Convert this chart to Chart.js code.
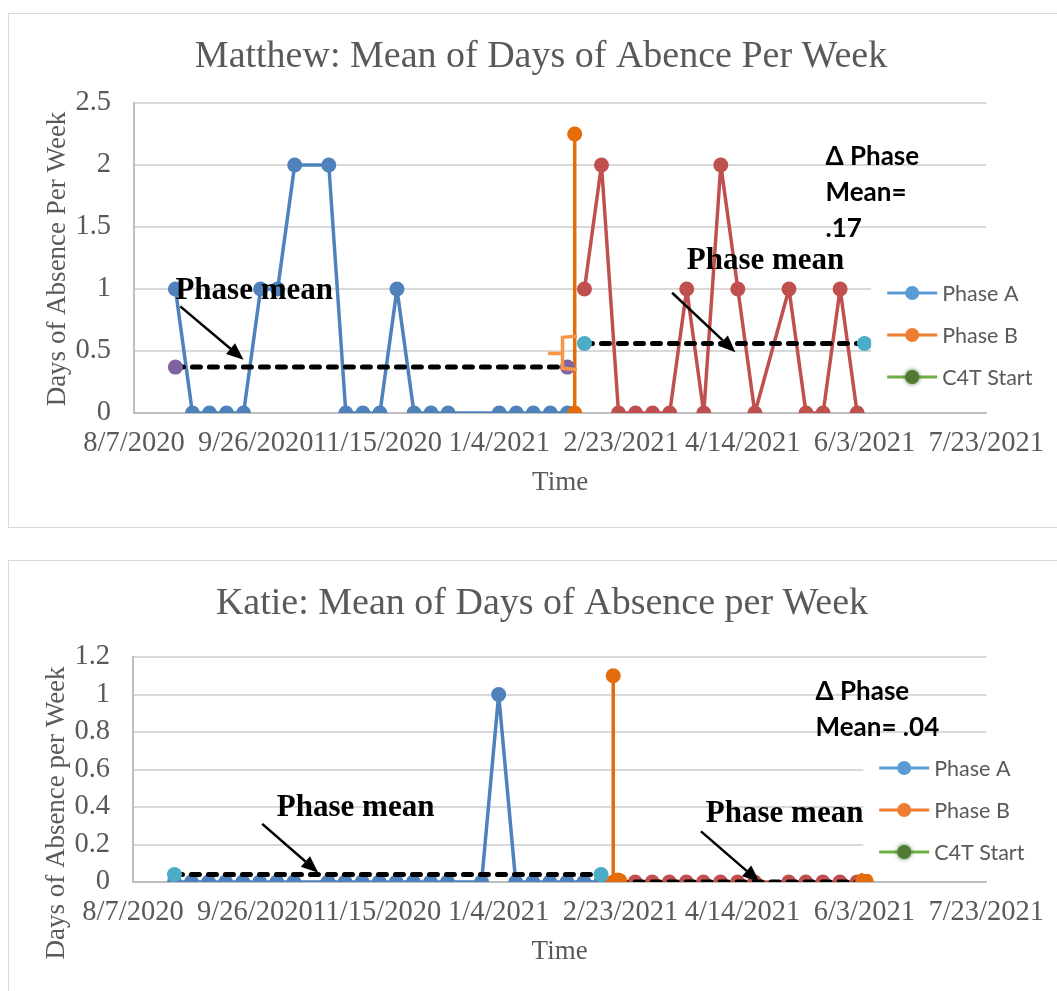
<!DOCTYPE html>
<html>
<head>
<meta charset="utf-8">
<title>Days of Absence Per Week</title>
<script src="https://cdn.jsdelivr.net/npm/chart.js@4.4.0/dist/chart.umd.min.js"></script>
<style>
    html, body { margin: 0; padding: 0; background: #fff; overflow: hidden; }
    body { position: relative; width: 1057px; height: 991px; }
    .box { position: absolute; left: 8px; width: 1100px; border: 1.5px solid #d9d9d9; }
    #box1 { top: 13px; height: 513px; }
    #box2 { top: 560px; height: 460px; }
    canvas { position: absolute; left: 0; }
    #chartMatthew { top: 0; }
    #chartKatie { top: 545px; }
</style>
</head>
<body>
<div class="box" id="box1"></div>
<div class="box" id="box2"></div>
<canvas id="chartMatthew" width="1057" height="540"></canvas>
<canvas id="chartKatie" width="1057" height="446"></canvas>
<script>
// ---- shared axis data ----
const xTickLabels = ['8/7/2020', '9/26/2020', '11/15/2020', '1/4/2021', '2/23/2021', '4/14/2021', '6/3/2021', '7/23/2021'];
const legendLabels = ['Phase A', 'Phase B', 'C4T Start'];

// ---- Matthew ----
const matthewYTicks = [0, 0.5, 1, 1.5, 2, 2.5];
const matthewADates = ['8/24/2020', '8/31/2020', '9/7/2020', '9/14/2020', '9/21/2020', '9/28/2020', '10/5/2020',
    '10/12/2020', '10/26/2020', '11/2/2020', '11/9/2020', '11/16/2020', '11/23/2020', '11/30/2020', '12/7/2020',
    '12/14/2020', '1/4/2021', '1/11/2021', '1/18/2021', '1/25/2021', '2/1/2021'];
const matthewAValues = [1, 0, 0, 0, 0, 1, 1, 2, 2, 0, 0, 0, 1, 0, 0, 0, 0, 0, 0, 0, 0];
const matthewBDates = ['2/4/2021', '2/4/2021'];
const matthewBValues = [0, 2.25];
const matthewBDataDates = ['2/8/2021', '2/15/2021', '2/22/2021', '3/1/2021', '3/8/2021', '3/15/2021', '3/22/2021',
    '3/29/2021', '4/5/2021', '4/12/2021', '4/19/2021', '5/3/2021', '5/10/2021', '5/17/2021', '5/24/2021', '5/31/2021'];
const matthewBDataValues = [1, 2, 0, 0, 0, 0, 1, 0, 2, 1, 0, 1, 0, 0, 1, 0];
const matthewMeanADates = ['8/24/2020', '2/1/2021'];
const matthewMeanAValues = [0.37, 0.37];
const matthewMeanBDates = ['2/8/2021', '6/3/2021'];
const matthewMeanBValues = [0.56, 0.56];
const matthewBracketDates = ['2/5/2021', '1/30/2021', '1/30/2021', '1/24/2021', '1/30/2021', '1/30/2021', '2/5/2021'];
const matthewBracketValues = [0.62, 0.61, 0.48, 0.48, 0.48, 0.36, 0.35];
const matthewLabelSpots = [['8/24/2020', 0.92], ['3/22/2021', 1.16]];
const matthewArrows = [[['8/26/2020', 0.86], ['9/21/2020', 0.43]], [['3/16/2021', 0.97], ['4/11/2021', 0.49]]];
const matthewDelta = ['Δ Phase', 'Mean=', '.17'];
const matthewDeltaSpot = ['5/18/2021', 2.0];

// ---- Katie ----
const katieYTicks = [0, 0.2, 0.4, 0.6, 0.8, 1, 1.2];
const katieADates = ['8/24/2020', '8/31/2020', '9/7/2020', '9/14/2020', '9/21/2020', '9/28/2020', '10/5/2020',
    '10/12/2020', '10/26/2020', '11/2/2020', '11/9/2020', '11/16/2020', '11/23/2020', '11/30/2020', '12/7/2020',
    '12/14/2020', '12/28/2020', '1/4/2021', '1/11/2021', '1/18/2021', '1/25/2021', '2/1/2021', '2/8/2021', '2/15/2021'];
const katieAValues = [0, 0, 0, 0, 0, 0, 0, 0, 0, 0, 0, 0, 0, 0, 0, 0, 0, 1, 0, 0, 0, 0, 0, 0];
const katieBDates = ['2/20/2021', '2/20/2021'];
const katieBValues = [0, 1.1];
const katieBDataDates = ['2/22/2021', '3/1/2021', '3/8/2021', '3/15/2021', '3/22/2021', '3/29/2021', '4/5/2021',
    '4/12/2021', '4/19/2021', '5/3/2021', '5/10/2021', '5/17/2021', '5/24/2021', '5/31/2021'];
const katieBDataValues = [0, 0, 0, 0, 0, 0, 0, 0, 0, 0, 0, 0, 0, 0];
const katieMeanADates = ['8/24/2020', '2/15/2021'];
const katieMeanAValues = [0.04, 0.04];
const katieMeanBDates = ['2/22/2021', '6/3/2021'];
const katieMeanBValues = [0, 0];
const katieLabelSpots = [['10/5/2020', 0.354], ['3/30/2021', 0.322]];
const katieArrows = [[['9/29/2020', 0.31], ['10/22/2020', 0.05]], [['3/28/2021', 0.27], ['4/21/2021', 0.0]]];
const katieDelta = ['Δ Phase', 'Mean= .04'];
const katieDeltaSpot = ['5/14/2021', 0.97];

const BLUE = '#4F81BD', ORANGE = '#E46C0A', RED = '#C0504D', PURPLE = '#8064A2', CYAN = '#4BACC6';
const GREY = '#595959';
const SERIF = '"Liberation Serif", "Times New Roman", serif';
const SANS = 'Lato, "Liberation Sans", sans-serif';

// m/d/yyyy -> excel style day number
function serial(s) {
    const [m, d, y] = s.split('/').map(Number);
    return Date.UTC(y, m - 1, d) / 86400000 + 25569;
}
function pts(dates, values) {
    return dates.map((d, i) => ({ x: serial(d), y: values[i] }));
}

function series(label, data, color, order, extra) {
    return Object.assign({
        label, data, order,
        borderColor: color, backgroundColor: color,
        pointBackgroundColor: color, pointBorderColor: color,
        borderWidth: 3.5, borderJoinStyle: 'round',
        pointRadius: 7.5, pointBorderWidth: 0, tension: 0
    }, extra || {});
}
function meanSeries(label, data, markerColor, radius) {
    return series(label, data, '#000', 1, {
        borderWidth: 5, borderDash: [8, 9], borderCapStyle: 'round',
        pointBackgroundColor: markerColor, pointBorderColor: markerColor, pointRadius: radius || 7.5
    });
}

// arrows, "Phase mean" notes, delta text, titles and legend
function makeNotes(cfg) {
    return {
        id: 'notes',
        afterDatasetsDraw(chart) {
            const { ctx, scales: { x, y } } = chart;
            const px = d => x.getPixelForValue(serial(d));
            ctx.save();
            ctx.strokeStyle = '#000';
            ctx.fillStyle = '#000';
            ctx.lineWidth = 2.5;
            cfg.arrows.forEach(([[d0, v0], [d1, v1]]) => {
                const x0 = px(d0), y0 = y.getPixelForValue(v0);
                const x1 = px(d1), y1 = y.getPixelForValue(v1);
                const ang = Math.atan2(y1 - y0, x1 - x0);
                const hl = 17, hw = 7;
                const bx = x1 - hl * Math.cos(ang), by = y1 - hl * Math.sin(ang);
                ctx.beginPath();
                ctx.moveTo(x0, y0);
                ctx.lineTo(bx, by);
                ctx.stroke();
                ctx.beginPath();
                ctx.moveTo(x1, y1);
                ctx.lineTo(bx + hw * Math.sin(ang), by - hw * Math.cos(ang));
                ctx.lineTo(bx - hw * Math.sin(ang), by + hw * Math.cos(ang));
                ctx.closePath();
                ctx.fill();
            });
            ctx.textAlign = 'left';
            ctx.textBaseline = 'alphabetic';
            ctx.font = 'bold 31px ' + SERIF;
            cfg.labels.forEach(([d, v]) => ctx.fillText('Phase mean', px(d), y.getPixelForValue(v)));
            ctx.font = 'bold 26px ' + SANS;
            cfg.delta.forEach((line, i) => {
                ctx.fillText(line, px(cfg.deltaSpot[0]), y.getPixelForValue(cfg.deltaSpot[1]) + i * 36);
            });
            ctx.restore();
        },
        afterDraw(chart) {
            const { ctx, chartArea: a } = chart;
            ctx.save();
            // chart title
            ctx.font = '38px ' + SERIF;
            ctx.fillStyle = GREY;
            ctx.textAlign = 'center';
            ctx.textBaseline = 'middle';
            ctx.fillText(cfg.title, cfg.titleX, cfg.titleY);
            // value axis title
            ctx.save();
            ctx.translate(cfg.yTitleX, cfg.yTitleY);
            ctx.rotate(-Math.PI / 2);
            ctx.font = '27px ' + SERIF;
            ctx.fillText(cfg.yTitle, 0, 0);
            ctx.restore();
            // legend (sits over the plot area like the excel one)
            const lx = a.right + cfg.legendDx, ly = a.top + cfg.legendDy;
            ctx.fillStyle = '#fff';
            ctx.fillRect(lx, ly - 22, chart.width - lx, 42 * 2 + 44);
            const colors = ['#5B9BD5', '#ED7D31', '#70AD47'];
            const markers = ['#5B9BD5', '#ED7D31', '#4E7A32'];
            ctx.font = '21.5px ' + SANS;
            ctx.textAlign = 'left';
            legendLabels.forEach((txt, i) => {
                const yy = ly + i * 42;
                ctx.strokeStyle = colors[i];
                ctx.lineWidth = 3;
                ctx.beginPath();
                ctx.moveTo(lx + 16, yy);
                ctx.lineTo(lx + 66, yy);
                ctx.stroke();
                ctx.fillStyle = markers[i];
                if (i === 2) { ctx.shadowColor = '#4E7A32'; ctx.shadowBlur = 4; }
                ctx.beginPath();
                ctx.arc(lx + 41, yy, 7, 0, Math.PI * 2);
                ctx.fill();
                ctx.shadowBlur = 0;
                ctx.fillStyle = GREY;
                ctx.fillText(txt, lx + 71, yy + 1);
            });
            ctx.restore();
        }
    };
}

function buildChart(id, cfg) {
    const yLabels = cfg.yTicks.map(v => String(v));
    return new Chart(document.getElementById(id), {
        type: 'line',
        data: { datasets: cfg.datasets },
        options: {
            responsive: false,
            animation: false,
            events: [],
            layout: { padding: { top: cfg.top, right: cfg.right, left: 0, bottom: 0 } },
            plugins: { legend: { display: false }, tooltip: { enabled: false }, title: { display: false } },
            scales: {
                x: {
                    type: 'linear',
                    min: serial(xTickLabels[0]),
                    max: serial(xTickLabels[xTickLabels.length - 1]),
                    afterBuildTicks: s => { s.ticks = xTickLabels.map(d => ({ value: serial(d) })); },
                    afterFit: s => { s.height = cfg.xHeight; },
                    grid: { display: false, drawTicks: false },
                    border: { display: true, color: '#bfbfbf', width: 2 },
                    ticks: {
                        autoSkip: false, maxRotation: 0, minRotation: 0, padding: 13,
                        color: GREY, font: { family: SERIF, size: 28.5 },
                        callback: (v, i) => xTickLabels[i]
                    },
                    title: {
                        display: true, text: 'Time', color: GREY,
                        font: { family: SERIF, size: 27 },
                        padding: { top: 0, bottom: cfg.timePad }
                    }
                },
                y: {
                    min: 0,
                    max: cfg.yTicks[cfg.yTicks.length - 1],
                    afterBuildTicks: s => { s.ticks = cfg.yTicks.map(v => ({ value: v })); },
                    afterFit: s => { s.width = cfg.yWidth; },
                    grid: { color: '#d9d9d9', lineWidth: 2, drawTicks: false },
                    border: { display: true, color: '#bfbfbf', width: 2 },
                    ticks: {
                        padding: 23, color: GREY, font: { family: SERIF, size: 28.5 },
                        callback: (v, i) => yLabels[i]
                    },
                    title: { display: false }
                }
            }
        },
        plugins: [makeNotes(cfg)]
    });
}

buildChart('chartMatthew', {
    title: 'Matthew: Mean of Days of Abence Per Week', titleX: 541, titleY: 57,
    yTitle: 'Days of Absence Per Week', yTitleX: 58, yTitleY: 259,
    yTicks: matthewYTicks,
    top: 103, right: 64, yWidth: 134, xHeight: 127, timePad: 41,
    legendDx: -115, legendDy: 190,
    labels: matthewLabelSpots, arrows: matthewArrows,
    delta: matthewDelta, deltaSpot: matthewDeltaSpot,
    datasets: [
        series('Phase A', pts(matthewADates, matthewAValues), BLUE, 4),
        series('Phase B', pts(matthewBDates, matthewBValues), ORANGE, 2),
        series('Phase B data', pts(matthewBDataDates, matthewBDataValues), RED, 3),
        meanSeries('Phase A mean', pts(matthewMeanADates, matthewMeanAValues), PURPLE),
        meanSeries('Phase B mean', pts(matthewMeanBDates, matthewMeanBValues), CYAN),
        series('C4T bracket', pts(matthewBracketDates, matthewBracketValues), '#F79646', 0,
            { borderWidth: 3.5, pointRadius: 0, borderJoinStyle: 'miter' })
    ]
});

buildChart('chartKatie', {
    title: 'Katie: Mean of Days of Absence per Week', titleX: 542, titleY: 59,
    yTitle: 'Days of Absence per Week', yTitleX: 57, yTitleY: 268,
    yTicks: katieYTicks,
    top: 112, right: 69, yWidth: 133, xHeight: 109, timePad: 23,
    legendDx: -123, legendDy: 111,
    labels: katieLabelSpots, arrows: katieArrows,
    delta: katieDelta, deltaSpot: katieDeltaSpot,
    datasets: [
        series('Phase A', pts(katieADates, katieAValues), BLUE, 4),
        series('Phase B', pts(katieBDates, katieBValues), ORANGE, 2),
        series('Phase B data', pts(katieBDataDates, katieBDataValues), RED, 3),
        meanSeries('Phase A mean', pts(katieMeanADates, katieMeanAValues), CYAN),
        meanSeries('Phase B mean', pts(katieMeanBDates, katieMeanBValues), ORANGE, 9.5)
    ]
});
</script>
</body>
</html>
